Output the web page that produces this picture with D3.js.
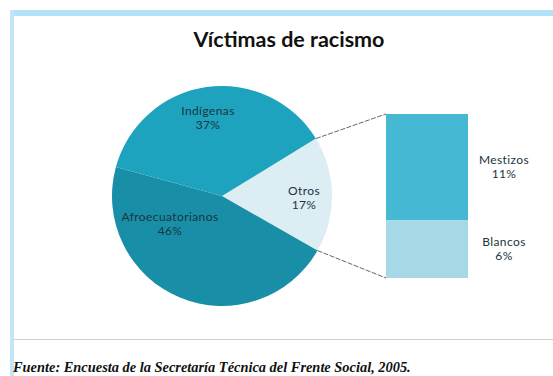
<!DOCTYPE html>
<html><head><meta charset="utf-8">
<script src="https://cdn.jsdelivr.net/npm/d3@7"></script>
<style>body{margin:0;background:#fff}svg{display:block}</style>
</head><body><svg id="c" width="553" height="376"></svg>
<script>
// clockwise order starting at Otros
const pieLabels = ["Otros", "Afroecuatorianos", "Indígenas"];
const pieValues = [17, 46, 37];
const pieColors = ["#dcedf3", "#188fa7", "#1ea3bf"];
const barLabels = ["Mestizos", "Blancos"];
const barValues = [11, 6];
const barColors = ["#45b8d4", "#a6d8e6"];
const title = "Víctimas de racismo";
const source = "Fuente: Encuesta de la Secretaría Técnica del Frente Social, 2005.";

const svg = d3.select("#c");
svg.append("rect").attr("x",10).attr("y",10).attr("width",543).attr("height",6).attr("fill","#b5e2f8");
svg.append("rect").attr("x",10).attr("y",10).attr("width",4).attr("height",366).attr("fill","#c3e6f7");
svg.append("line").attr("x1",14).attr("x2",553).attr("y1",339.5).attr("y2",339.5).attr("stroke","#cfcfcf").attr("stroke-width",1.2);

svg.append("text").attr("x",289).attr("y",47).attr("text-anchor","middle")
  .attr("font-family","Lato, 'Open Sans', sans-serif").attr("font-weight","bold").attr("font-size",21.5)
  .attr("fill","#111").text(title);

const cx = 222, cy = 196, r = 110;
const otrosMid = Math.PI/2 - 0.015;
const total = d3.sum(pieValues);
const startA = otrosMid - (pieValues[0]/total)*Math.PI;
const pie = d3.pie().sort(null).value(d=>d).startAngle(startA).endAngle(startA + 2*Math.PI);
const arcs = pie(pieValues);
const arc = d3.arc().innerRadius(0).outerRadius(r);
const g = svg.append("g").attr("transform",`translate(${cx},${cy})`);
g.selectAll("path").data(arcs).join("path").attr("d",arc).attr("fill",(d,i)=>pieColors[i]);

const bx = 386, bw = 82, bTop = 114, bBot = 278;
const y = d3.scaleLinear().domain([0, d3.sum(barValues)]).range([bTop, bBot]);
let acc = 0;
const segs = barValues.map((v,i)=>{const s={v,i,y0:acc,y1:acc+v}; acc+=v; return s;});
svg.selectAll("rect.bar").data(segs).join("rect").attr("class","bar")
  .attr("x",bx).attr("width",bw).attr("y",d=>y(d.y0)).attr("height",d=>y(d.y1)-y(d.y0))
  .attr("fill",d=>barColors[d.i]);

const oa = arcs[0];
const p1 = [cx + r*Math.sin(oa.startAngle), cy - r*Math.cos(oa.startAngle)];
const p2 = [cx + r*Math.sin(oa.endAngle), cy - r*Math.cos(oa.endAngle)];
svg.append("line").attr("x1",p1[0]).attr("y1",p1[1]).attr("x2",bx).attr("y2",bTop).attr("stroke","#555").attr("stroke-width",0.9).attr("stroke-dasharray","5,1.5");
svg.append("line").attr("x1",p2[0]).attr("y1",p2[1]).attr("x2",bx).attr("y2",bBot).attr("stroke","#555").attr("stroke-width",0.9).attr("stroke-dasharray","5,1.5");

const lf = "Lato, 'Open Sans', sans-serif";
function lab(x, yy, name, val){
  const t = svg.append("text").attr("text-anchor","middle").attr("font-family",lf).attr("font-size",12)
    .attr("letter-spacing",0.4).attr("fill","#1b3440");
  t.append("tspan").attr("x",x).attr("y",yy).text(name);
  t.append("tspan").attr("x",x).attr("y",yy+14).text(val+"%");
}
const labPos = [[304,195],[170,221],[208,115]];
pieLabels.forEach((n,i)=>lab(labPos[i][0],labPos[i][1],n,pieValues[i]));
const barLabX = 504;
segs.forEach(s=>lab(barLabX, (y(s.y0)+y(s.y1))/2 - 3, barLabels[s.i], s.v));

svg.append("text").attr("x",13).attr("y",372).attr("font-family","'Liberation Serif', 'Times New Roman', serif")
  .attr("font-style","italic").attr("font-weight","bold").attr("font-size",14.4).attr("fill","#111").text(source);
</script></body></html>
